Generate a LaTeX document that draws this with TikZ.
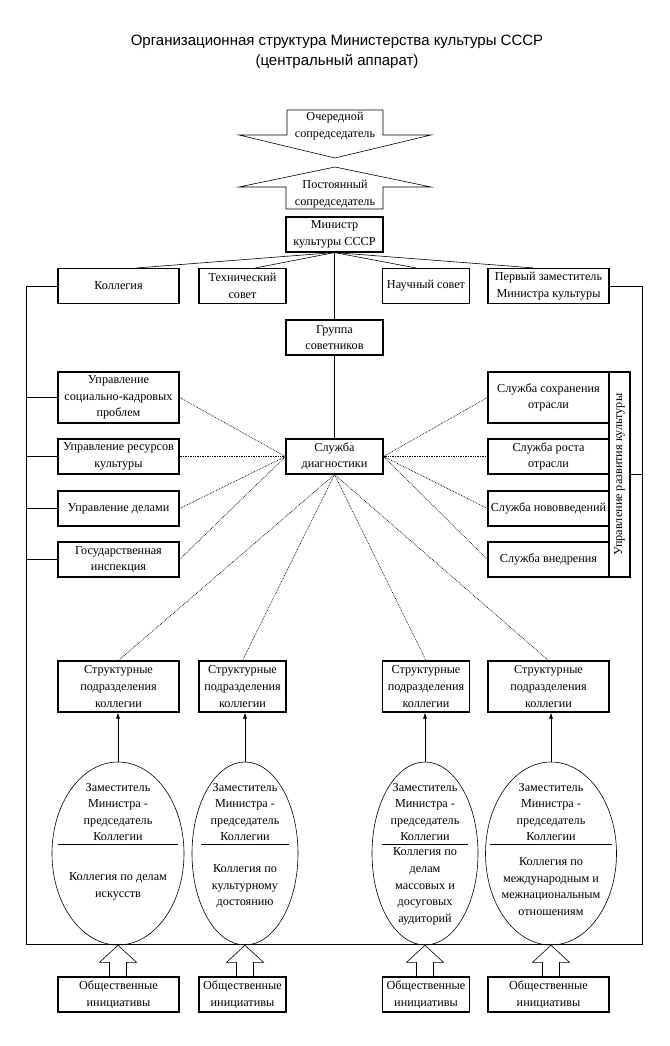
\documentclass[tikz,border=0pt]{standalone}
\usepackage{fontspec}
\setmainfont{Liberation Serif}
\newfontfamily\titlefont{Liberation Sans}
\usepackage{tikz}
\usetikzlibrary{arrows.meta,calc,shapes.geometric}

\tikzset{
  txt/.style={align=center,inner sep=0pt,font=\fontsize{12.2}{16.6}\selectfont},
  box/.style={txt,rectangle,draw,line width=1.1pt,minimum height=35pt},
  tall/.style={minimum height=51pt},
  wide/.style={minimum width=121pt},
  mid/.style={minimum width=97pt},
  narrow/.style={minimum width=87pt},
  ell/.style={ellipse,draw,minimum height=183pt,inner sep=0pt},
}

\begin{document}
\begin{tikzpicture}
[x=1pt,y=-1pt,line width=0.6pt,
 dots/.style={densely dotted,line width=0.7pt}]
\useasboundingbox (0,0) rectangle (669,1046);

\node (title) at (337,52)[align=center,font=\titlefont\fontsize{15}{20.5}\selectfont] {Организационная структура Министерства культуры СССР\\(центральный аппарат)};

% co-chairs
\draw (287,110) -- (383,110) -- (383,135) -- (431,135) -- (335,158) -- (239,135) -- (287,135) -- cycle;
\node (och) at (335,126)[txt] {Очередной\\сопредседатель};
\draw (335,167) -- (431,187) -- (383,187) -- (383,209) -- (286,209) -- (286,187) -- (239,187) -- cycle;
\node (post) at (335,194)[txt] {Постоянный\\сопредседатель};

\node (min) at (334.5,234.5)[box,mid] {Министр\\культуры СССР};
\node (kol) at (118.5,286)[box,wide] {Коллегия};
\node (tech) at (242.5,286)[box,narrow] {Технический\\совет};
\node (nauch) at (426,286)[box,narrow] {Научный совет};
\node (perv) at (548.5,286)[box,wide] {Первый заместитель\\Министра культуры};
\node (grup) at (334.5,337.5)[box,mid] {Группа\\советников};

\node (L1) at (118.5,397.5)[box,wide,tall] {Управление\\социально-кадровых\\проблем};
\node (L2) at (118.5,456.5)[box,wide] {Управление ресурсов\\культуры};
\node (L3) at (118.5,508.5)[box,wide] {Управление делами};
\node (L4) at (118.5,559.5)[box,wide] {Государственная\\инспекция};
\node (diag) at (334.5,456.5)[box,mid] {Служба\\диагностики};
\node (R1) at (548.5,397.5)[box,wide,tall] {Служба сохранения\\отрасли};
\node (R2) at (548.5,456.5)[box,wide] {Служба роста\\отрасли};
\node (R3) at (548.5,508.5)[box,wide] {Служба нововведений};
\node (R4) at (548.5,559.5)[box,wide] {Служба внедрения};
\node (upr) at (619.5,474.5)[box,rotate=90,minimum width=205pt,minimum height=21pt] {Управление развития культуры};

\node (S1) at (118.5,686.5)[box,wide,tall] {Структурные\\подразделения\\коллегии};
\node (S2) at (242.5,686.5)[box,narrow,tall] {Структурные\\подразделения\\коллегии};
\node (S3) at (426,686.5)[box,narrow,tall] {Структурные\\подразделения\\коллегии};
\node (S4) at (548.5,686.5)[box,wide,tall] {Структурные\\подразделения\\коллегии};

% colleges
\node (E1) at (118,853.5)[ell,minimum width=132pt] {};
\node (E2) at (245,853.5)[ell,minimum width=106pt] {};
\node (E3) at (425,853.5)[ell,minimum width=106pt] {};
\node (E4) at (551,853.5)[ell,minimum width=131pt] {};
\foreach \i in {1,...,4}
  \node (E\i t) at (E\i.center)[txt,yshift=41.5pt] {Заместитель\\Министра -\\председатель\\Коллегии};
\node (E1b) at (118,886.5)[txt] {Коллегия по делам\\искусств};
\node (E2b) at (245,886.5)[txt] {Коллегия по\\культурному\\достоянию};
\node (E3b) at (425,886.5)[txt] {Коллегия по\\делам\\массовых и\\досуговых\\аудиторий};
\node (E4b) at (551,886.5)[txt] {Коллегия по\\международным и\\межнациональным\\отношениям};
\foreach \i/\h in {1/60,2/44,3/43,4/61}
  \draw ($(E\i.center)+(-\h,-9.5)$) -- ($(E\i.center)+(\h,-9.5)$);

\node (O1) at (118.5,994.5)[box,wide] {Общественные\\инициативы};
\node (O2) at (242.5,994.5)[box,narrow] {Общественные\\инициативы};
\node (O3) at (426,994.5)[box,narrow] {Общественные\\инициативы};
\node (O4) at (548.5,994.5)[box,wide] {Общественные\\инициативы};

% links
\draw (min.south) -- (grup.north);
\draw (grup.south) -- (diag.north);
\draw (min.south) -- ([xshift=18pt]kol.north);
\draw (min.south) -- ([xshift=13pt]tech.north);
\draw (min.south) -- ([xshift=-10pt]nauch.north);
\draw (min.south) -- ([xshift=-15pt]perv.north);

\coordinate (cl) at (26,944);
\coordinate (cr) at (642,944);
\draw (kol.west) -| (cl) -- (cr) |- (perv.east);
\foreach \i in {1,...,4}
  \draw (L\i.west) -- (L\i.west -| cl);
\draw (upr.south) -- (upr.south -| cr);

\foreach \i in {1,...,4} {
  \draw[dots] (L\i.east) -- (diag.west);
  \draw[dots] (R\i.west) -- (diag.east);
  \draw[dots] (diag.south) -- (S\i.north);
  \draw[-{Latex[length=6pt,width=4pt]}] (E\i.north) -- (E\i.north |- S\i.south);
  \draw ($(E\i.south)+(-8.5,32)$) -- ++(0,-15) -- ++(-10,0) -- (E\i.south)
     -- ++(18.5,17) -- ++(-10,0) -- ++(0,15);
}

\end{tikzpicture}
\end{document}
